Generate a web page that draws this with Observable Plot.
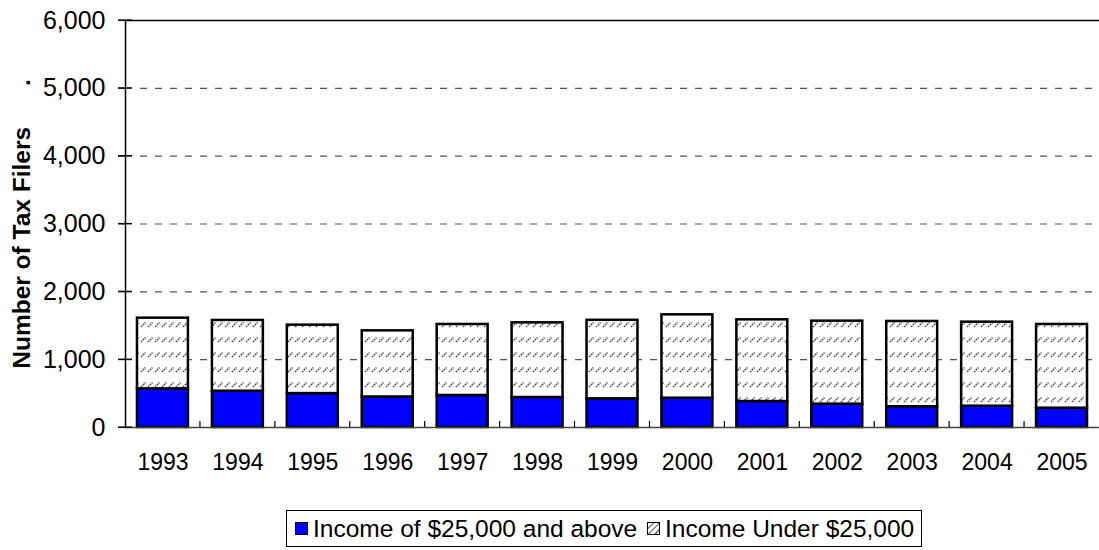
<!DOCTYPE html>
<html>
<head>
<meta charset="utf-8">
<script src="https://cdn.jsdelivr.net/npm/d3@7"></script>
<script src="https://cdn.jsdelivr.net/npm/@observablehq/plot@0.6"></script>
<style>
  body { margin: 0; background: #fff; font-family: Arial, "Liberation Sans", sans-serif; }
  #wrap { position: relative; width: 1099px; height: 550px; overflow: hidden; }
  #chart svg { display: block; }
  #legend { position: absolute; left: 286px; top: 510px; width: 636px; height: 37px; box-sizing: border-box;
            border: 1px solid #000; background: #fff; }
  .item { position: absolute; top: 0; height: 35px; display: flex; align-items: center; font-size: 24.5px; color: #000; white-space: nowrap; }
  .sw { width: 11px; height: 11px; border: 1.5px solid #000; margin-right: 5px; }
</style>
</head>
<body>
<div id="wrap">
  <div id="chart"></div>
  <div id="legend"></div>
</div>
<script>
const years = ["1993","1994","1995","1996","1997","1998","1999","2000","2001","2002","2003","2004","2005"];
const incomeAbove = [570, 535, 500, 450, 472, 442, 422, 432, 383, 344, 306, 314, 285];
const incomeUnder = [1042, 1043, 1009, 975, 1047, 1101, 1158, 1229, 1204, 1224, 1257, 1239, 1234];
const seriesNames = ["Income of $25,000 and above", "Income Under $25,000"];
const seriesFills = ["#0000FF", "url(#hatch)"];
const yTicks = [0, 1000, 2000, 3000, 4000, 5000, 6000];
const gridTicks = [1000, 2000, 3000, 4000, 5000];
const yTitle = "Number of Tax Filers" + "\u00A0".repeat(6) + ".";

const data = years.flatMap((yr, i) => [
  {year: yr, series: seriesNames[0], value: incomeAbove[i]},
  {year: yr, series: seriesNames[1], value: incomeUnder[i]}
]);

function extraTicks(index, scales, values, dimensions) {
  const g = d3.create("svg:g");
  const x = scales.x, y = scales.y;
  const ml = dimensions.marginLeft;
  const bottom = dimensions.height - dimensions.marginBottom;
  for (const t of yTicks) {
    g.append("line").attr("x1", ml - 7).attr("x2", ml + 7)
      .attr("y1", y(t)).attr("y2", y(t)).attr("stroke", "#000").attr("stroke-width", 1.2);
  }
  const bw = x.bandwidth ? x.bandwidth() : 0;
  const xs = years.map(v => x(v));
  const step = xs[1] - xs[0];
  const gap = (step - bw) / 2;
  for (let i = 1; i < years.length; i++) {
    const bx = xs[i] - gap;
    g.append("line").attr("x1", bx).attr("x2", bx)
      .attr("y1", bottom).attr("y2", bottom - 6).attr("stroke", "#000").attr("stroke-width", 1.2);
  }
  return g.node();
}

const chart = Plot.plot({
  width: 1099,
  height: 490,
  marginLeft: 125,
  marginRight: 0,
  marginTop: 20,
  marginBottom: 63,
  style: {fontFamily: "Arial, 'Liberation Sans', sans-serif", fontSize: "23px", color: "#000", background: "#fff"},
  x: {domain: years, paddingInner: 0.32, paddingOuter: 0.16, round: false, label: null},
  y: {domain: [0, 6000], label: null},
  color: {domain: seriesNames, range: seriesFills},
  marks: [
    Plot.ruleY(gridTicks, {stroke: "#555", strokeWidth: 1.2, strokeDasharray: "7,8"}),
    Plot.ruleY([6000], {stroke: "#000", strokeWidth: 1.5}),
    Plot.barY(data, {x: "year", y: "value", fill: "series", stroke: "#000", strokeWidth: 2.5}),
    Plot.ruleY([0], {stroke: "#444", strokeWidth: 1.5}),
    Plot.frame({anchor: "left", stroke: "#000", strokeWidth: 1.5}),
    Plot.axisY({ticks: yTicks, tickFormat: d3.format(","), tickSize: 7, tickPadding: 13, fontSize: 25, label: null}),
    Plot.axisX({tickSize: 0, tickPadding: 26, fontSize: 23, label: null}),
    Plot.text([yTitle], {frameAnchor: "left", dx: -96, rotate: -90, textAnchor: "middle", lineAnchor: "bottom",
      fontSize: 24.5, fontWeight: "bold", fill: "#000"}),
    extraTicks
  ]
});

d3.select(chart).insert("defs", ":first-child").html(
  '<pattern id="hatch" width="7" height="15" patternUnits="userSpaceOnUse">' +
  '<rect width="7" height="15" fill="#fff"/>' +
  '<line x1="1" y1="12" x2="5.5" y2="7.5" stroke="#5a5a5a" stroke-width="1.6" stroke-dasharray="1.8 0.8"/>' +
  '</pattern>'
);

document.getElementById("chart").appendChild(chart);

const legend = d3.select("#legend");
const legendLeft = [8, 360];
seriesNames.forEach((name, i) => {
  const item = legend.append("div").attr("class", "item").style("left", legendLeft[i] + "px");
  const sw = item.append("div").attr("class", "sw");
  if (i === 0) sw.style("background", seriesFills[0]);
  else sw.style("background", "repeating-linear-gradient(135deg, #fff 0 3px, #888 3px 4.5px)");
  item.append("span").text(name);
});
</script>
</body>
</html>
